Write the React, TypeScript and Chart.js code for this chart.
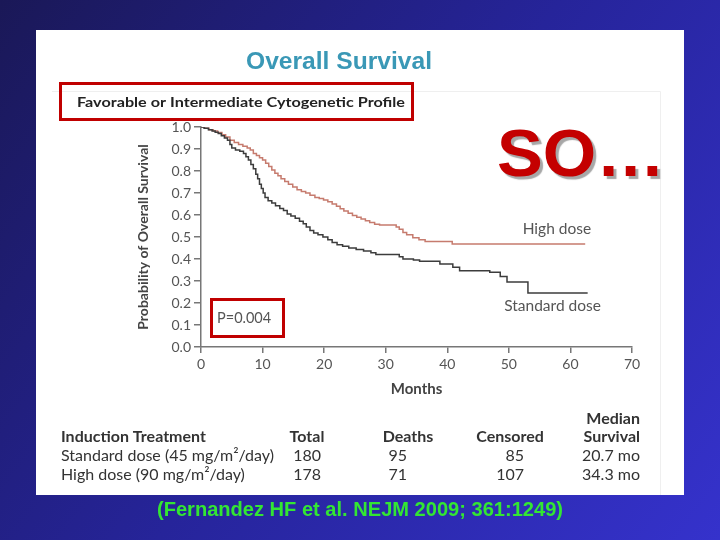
import { useEffect, useRef } from "react";
import { Chart, registerables } from "chart.js";
Chart.register(...registerables);

// ---- data ----
const standardMonths = [0, 0.5, 1.2, 1.8, 2.3, 2.8, 3.3, 3.8, 4.3, 4.7, 5.0, 5.6, 6.3, 6.9, 7.3, 7.7, 8.1, 8.5, 8.9, 9.2, 9.5, 9.8, 10.1, 10.4, 10.9, 11.5, 12.1, 12.8, 13.4, 14.0, 14.6, 15.3, 16.0, 16.6, 17.1, 17.7, 18.3, 19.0, 19.8, 20.6, 21.3, 22.1, 23.0, 24.0, 25.2, 26.4, 27.6, 28.4, 32.2, 32.8, 34.5, 35.5, 38.8, 40.9, 42.0, 46.9, 48.6, 49.7, 53.1, 62.8];
const standardSurvival = [1.0, 0.994, 0.988, 0.982, 0.976, 0.97, 0.96, 0.95, 0.94, 0.92, 0.905, 0.895, 0.89, 0.88, 0.865, 0.85, 0.83, 0.81, 0.785, 0.765, 0.74, 0.72, 0.70, 0.68, 0.665, 0.655, 0.642, 0.63, 0.62, 0.605, 0.595, 0.585, 0.572, 0.56, 0.545, 0.53, 0.518, 0.51, 0.50, 0.488, 0.475, 0.465, 0.458, 0.45, 0.443, 0.436, 0.428, 0.42, 0.41, 0.40, 0.395, 0.39, 0.377, 0.363, 0.347, 0.34, 0.32, 0.295, 0.245, 0.245];
const highMonths = [0, 0.6, 1.3, 2.0, 2.7, 3.4, 4.0, 4.7, 5.4, 6.1, 6.8, 7.5, 8.0, 8.5, 9.0, 9.5, 10.0, 10.5, 11.0, 11.5, 12.0, 12.5, 13.0, 13.6, 14.2, 14.9, 15.6, 16.3, 17.0, 17.7, 18.5, 19.2, 19.9, 20.6, 21.3, 22.0, 22.6, 23.2, 23.9, 24.6, 25.3, 26.0, 26.7, 27.4, 28.2, 29.0, 31.7, 32.2, 32.8, 33.4, 34.4, 35.4, 36.4, 40.8, 62.4];
const highSurvival = [1.0, 0.994, 0.988, 0.982, 0.975, 0.965, 0.955, 0.94, 0.93, 0.92, 0.912, 0.905, 0.895, 0.88, 0.87, 0.86, 0.85, 0.835, 0.82, 0.805, 0.79, 0.778, 0.765, 0.752, 0.74, 0.727, 0.715, 0.707, 0.70, 0.69, 0.68, 0.675, 0.668, 0.66, 0.65, 0.64, 0.628, 0.618, 0.608, 0.598, 0.59, 0.582, 0.574, 0.566, 0.558, 0.555, 0.545, 0.535, 0.52, 0.51, 0.497, 0.487, 0.48, 0.468, 0.468];

const seriesNames = ["High dose", "Standard dose"];
const seriesLabelMonths = [57.8, 57.1];
const seriesLabelSurvival = [0.536, 0.186];
const pValueText = "P=0.004";
const pValueMonth = 2.6;
const pValueSurvival = 0.132;

const chartTitle = "Overall Survival";
const chartSubtitle = "Favorable or Intermediate Cytogenetic Profile";
const xTitle = "Months";
const yTitle = "Probability of Overall Survival";
const bigText = "SO\u2026";
const citation = "(Fernandez HF et al. NEJM 2009; 361:1249)";

const tableHeader = ["Induction Treatment", "Total", "Deaths", "Censored", "Median", "Survival"];
const tableRow1 = ["Standard dose (45 mg/m\u00B2/day)", "180", "95", "85", "20.7 mo"];
const tableRow2 = ["High dose (90 mg/m\u00B2/day)", "178", "71", "107", "34.3 mo"];

const FIG_FONT = "Lato, 'Open Sans', sans-serif";

function fitText(ctx: CanvasRenderingContext2D, text: string, x: number, y: number, width: number, align: "left" | "center") {
  const w = ctx.measureText(text).width;
  const s = width / w;
  ctx.save();
  ctx.textAlign = "left";
  const left = align === "center" ? x - width / 2 : x;
  ctx.translate(left, y);
  ctx.scale(s, 1);
  ctx.fillText(text, 0, 0);
  ctx.restore();
}

const slidePlugin = {
  id: "slide",
  beforeDraw(chart: any) {
    const ctx: CanvasRenderingContext2D = chart.ctx;
    ctx.save();
    const g = ctx.createLinearGradient(0, 0, 720, 540);
    g.addColorStop(0, "#1a1857");
    g.addColorStop(0.5, "#26249a");
    g.addColorStop(1, "#3532cc");
    ctx.fillStyle = g;
    ctx.fillRect(0, 0, 720, 540);
    ctx.fillStyle = "#ffffff";
    ctx.fillRect(36, 30, 648, 465);
    ctx.strokeStyle = "#efefef";
    ctx.lineWidth = 1;
    ctx.beginPath();
    ctx.moveTo(52, 91.5);
    ctx.lineTo(660.5, 91.5);
    ctx.lineTo(660.5, 495);
    ctx.stroke();
    ctx.restore();
  },
  afterDraw(chart: any) {
    const ctx: CanvasRenderingContext2D = chart.ctx;
    const xs = chart.scales.x;
    const ys = chart.scales.y;
    ctx.save();
    ctx.textBaseline = "alphabetic";

    // title
    ctx.fillStyle = "#3a98b6";
    ctx.font = "bold 24px 'Liberation Sans', Arial, sans-serif";
    fitText(ctx, chartTitle, 339, 69, 186, "center");

    // subtitle + box
    ctx.fillStyle = "#222";
    ctx.font = `bold 14px ${FIG_FONT}`;
    fitText(ctx, chartSubtitle, 241, 107, 328, "center");
    ctx.strokeStyle = "#c00000";
    ctx.lineWidth = 3;
    ctx.strokeRect(60.5, 83.5, 352, 36);

    // series labels
    ctx.fillStyle = "#555";
    ctx.font = `15.5px ${FIG_FONT}`;
    ctx.textAlign = "center";
    ctx.textBaseline = "middle";
    for (let i = 0; i < seriesNames.length; i++) {
      ctx.fillText(seriesNames[i], xs.getPixelForValue(seriesLabelMonths[i]), ys.getPixelForValue(seriesLabelSurvival[i]));
    }
    // p value
    ctx.textAlign = "left";
    ctx.font = `14.5px ${FIG_FONT}`;
    ctx.fillText(pValueText, xs.getPixelForValue(pValueMonth), ys.getPixelForValue(pValueSurvival));
    ctx.strokeStyle = "#c00000";
    ctx.lineWidth = 3;
    ctx.strokeRect(211.5, 299.5, 72, 37);

    // table
    ctx.textBaseline = "middle";
    ctx.fillStyle = "#333";
    ctx.font = `bold 16px ${FIG_FONT}`;
    ctx.textAlign = "left";
    ctx.fillText(tableHeader[0], 61, 437);
    ctx.textAlign = "center";
    ctx.fillText(tableHeader[1], 307, 437);
    ctx.fillText(tableHeader[2], 408, 437);
    ctx.fillText(tableHeader[3], 510, 437);
    ctx.textAlign = "right";
    ctx.fillText(tableHeader[4], 640, 419);
    ctx.fillText(tableHeader[5], 640, 437);
    ctx.font = `16px ${FIG_FONT}`;
    const rows = [tableRow1, tableRow2];
    const rowY = [456, 475];
    rows.forEach((r, i) => {
      const y = rowY[i];
      ctx.textAlign = "left";
      ctx.fillText(r[0], 61, y);
      ctx.textAlign = "right";
      ctx.fillText(r[1], 321, y);
      ctx.fillText(r[2], 407, y);
      ctx.fillText(r[3], 524, y);
      ctx.fillText(r[4], 640, y);
    });

    // big SO...
    ctx.textBaseline = "alphabetic";
    ctx.textAlign = "left";
    ctx.font = "bold 67px 'Liberation Sans', Arial, sans-serif";
    ctx.shadowColor = "rgba(60,60,60,0.45)";
    ctx.shadowOffsetX = 3;
    ctx.shadowOffsetY = 3;
    ctx.shadowBlur = 1;
    ctx.fillStyle = "#c40000";
    fitText(ctx, bigText, 497, 176, 168, "left");
    ctx.shadowColor = "transparent";

    // citation
    ctx.fillStyle = "#33e633";
    ctx.font = "bold 20px 'Liberation Sans Narrow', 'Liberation Sans', Arial, sans-serif";
    fitText(ctx, citation, 360, 516, 406, "center");
    ctx.restore();
  },
};

export default function App() {
  const ref = useRef<HTMLCanvasElement | null>(null);
  useEffect(() => {
    if (!ref.current) return;
    const chart = new Chart(ref.current, {
      type: "line",
      data: {
        datasets: [
          {
            label: seriesNames[1],
            data: standardMonths.map((m, i) => ({ x: m, y: standardSurvival[i] })),
            borderColor: "#3c3c3c",
            borderWidth: 1.5,
            pointRadius: 0,
            stepped: "before",
            fill: false,
          },
          {
            label: seriesNames[0],
            data: highMonths.map((m, i) => ({ x: m, y: highSurvival[i] })),
            borderColor: "#c67b6e",
            borderWidth: 1.5,
            pointRadius: 0,
            stepped: "before",
            fill: false,
          },
        ],
      },
      options: {
        responsive: false,
        animation: false,
        layout: { padding: { left: 135, right: 88, top: 127, bottom: 142 } },
        plugins: { legend: { display: false }, tooltip: { enabled: false }, title: { display: false } },
        scales: {
          x: {
            type: "linear",
            min: 0,
            max: 70,
            ticks: { stepSize: 10, color: "#555", font: { family: FIG_FONT, size: 14 }, padding: 3 },
            grid: { drawOnChartArea: false, drawTicks: true, tickLength: 6, color: "#777", lineWidth: 1.5 },
            border: { display: true, color: "#777", width: 1.5 },
            title: { display: true, text: xTitle, color: "#444", font: { family: FIG_FONT, size: 15, weight: "bold" }, padding: 0 },
            afterFit: (s: any) => { s.height = 51; },
          },
          y: {
            type: "linear",
            min: 0,
            max: 1,
            ticks: { stepSize: 0.1, color: "#555", font: { family: FIG_FONT, size: 14 }, padding: 3, callback: (v: any) => Number(v).toFixed(1) },
            grid: { drawOnChartArea: false, drawTicks: true, tickLength: 7, color: "#777", lineWidth: 1.5 },
            border: { display: true, color: "#777", width: 1.5 },
            title: { display: true, text: yTitle, color: "#444", font: { family: FIG_FONT, size: 14, weight: "bold" }, padding: 0 },
            afterFit: (s: any) => { s.width = 66; },
          },
        },
      },
      plugins: [slidePlugin],
    } as any);
    return () => chart.destroy();
  }, []);
  return (
    <div style={{ position: "absolute", left: 0, top: 0, width: 720, height: 540 }}>
      <canvas ref={ref} width={720} height={540} style={{ width: 720, height: 540, display: "block" }} />
    </div>
  );
}
